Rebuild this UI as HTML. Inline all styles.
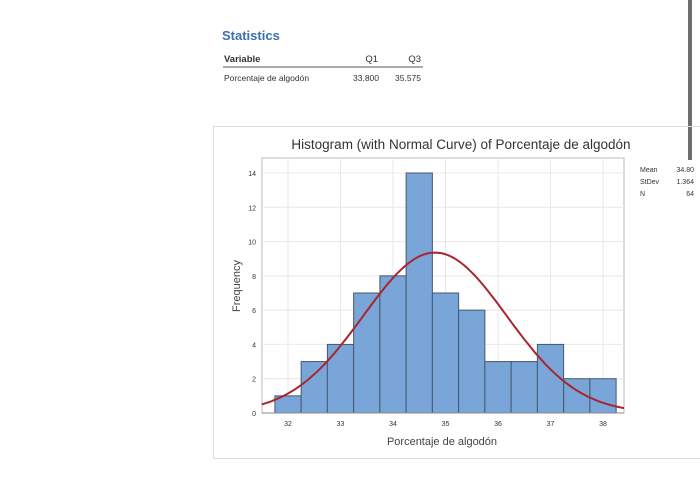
<!DOCTYPE html>
<html><head><meta charset="utf-8"><style>
body{margin:0;width:700px;height:478px;background:#fff;font-family:"Liberation Sans",sans-serif;overflow:hidden;position:relative}
</style></head><body>
<svg width="700" height="478" style="position:absolute;left:0;top:0">
<text x="222" y="40" font-size="13" fill="#3a70b0" font-weight="bold">Statistics</text>
<g font-size="9.5" fill="#333">
<text x="224" y="62" font-weight="bold">Variable</text>
<text x="378" y="62" text-anchor="end">Q1</text>
<text x="421" y="62" text-anchor="end">Q3</text>
<line x1="223" y1="67" x2="423" y2="67" stroke="#555" stroke-width="1"/>
<text x="224" y="81" font-size="8.5">Porcentaje de algodón</text>
<text x="379" y="81" font-size="8.5" text-anchor="end">33.800</text>
<text x="421" y="81" font-size="8.5" text-anchor="end">35.575</text>
</g>
<rect x="688" y="0" width="4" height="160" fill="#6e6e6e"/>
<rect x="213.5" y="126.5" width="500" height="332" fill="none" stroke="#ddd"/>
<text x="461" y="149" font-size="13.5" fill="#333" text-anchor="middle">Histogram (with Normal Curve) of Porcentaje de algodón</text>
<g id="plot"></g>
<g font-size="7" fill="#333">
<text x="640" y="172">Mean</text><text x="694" y="172" text-anchor="end">34.80</text>
<text x="640" y="184">StDev</text><text x="694" y="184" text-anchor="end">1.364</text>
<text x="640" y="196">N</text><text x="694" y="196" text-anchor="end">64</text>
</g>
<text x="442" y="445" font-size="11" fill="#444" text-anchor="middle">Porcentaje de algodón</text>
<text transform="translate(240,286) rotate(-90)" font-size="11" fill="#444" text-anchor="middle">Frequency</text>
</svg>
<script>
const binStarts=[31.75,32.25,32.75,33.25,33.75,34.25,34.75,35.25,35.75,36.25,36.75,37.25,37.75];
const counts=[1,3,4,7,8,14,7,6,3,3,4,2,2];
const binWidth=0.5;
const mean=34.80, stdev=1.364, n=64;
const xTicks=[32,33,34,35,36,37,38];
const yTicks=[0,2,4,6,8,10,12,14];
const X0=262,X1=624,Y0=413,YT=158;
const xs=v=>288+(v-32)*52.5;
const ys=v=>413-v*(240/14);
const NS="http://www.w3.org/2000/svg";
const g=document.getElementById('plot');
function mk(t,a){const e=document.createElementNS(NS,t);for(const k in a)e.setAttribute(k,a[k]);g.appendChild(e);return e;}
const fr=mk('rect',{x:X0,y:YT,width:X1-X0,height:Y0-YT,fill:'#fff',stroke:'#bbb'});


yTicks.forEach(t=>{
 const l=mk('line',{x1:X0,x2:X1,y1:ys(t),y2:ys(t),stroke:'#e8e8e8'});
 
 
 const tx=mk('text',{x:X0-6,y:ys(t)+3,'font-size':7,fill:'#333','text-anchor':'end'});tx.textContent=t;
 
 
});
xTicks.forEach(t=>{
 const l=mk('line',{x1:xs(t),x2:xs(t),y1:YT,y2:Y0,stroke:'#e8e8e8'});
 
 
 const tx=mk('text',{x:xs(t),y:Y0+13,'font-size':7,fill:'#333','text-anchor':'middle'});tx.textContent=t;
 
 
});
counts.forEach((c,i)=>{
 const b=mk('rect',{x:xs(binStarts[i]),y:ys(c),width:xs(binStarts[i]+binWidth)-xs(binStarts[i]),height:ys(0)-ys(c),fill:'#7aa5d8',stroke:'#44586e','stroke-width':1});
 
 
});
let d='';
for(let v=31.5;v<=38.4;v+=0.05){
 const y=n*binWidth/(stdev*Math.sqrt(2*Math.PI))*Math.exp(-0.5*((v-mean)/stdev)**2);
 d+=(d?'L':'M')+xs(v).toFixed(1)+','+ys(y).toFixed(1);
}
const p=mk('path',{d:d,fill:'none',stroke:'#a8262e','stroke-width':2});


const ax=mk('line',{x1:X0,x2:X1,y1:Y0,y2:Y0,stroke:'#888'});


</script>
</body></html>
